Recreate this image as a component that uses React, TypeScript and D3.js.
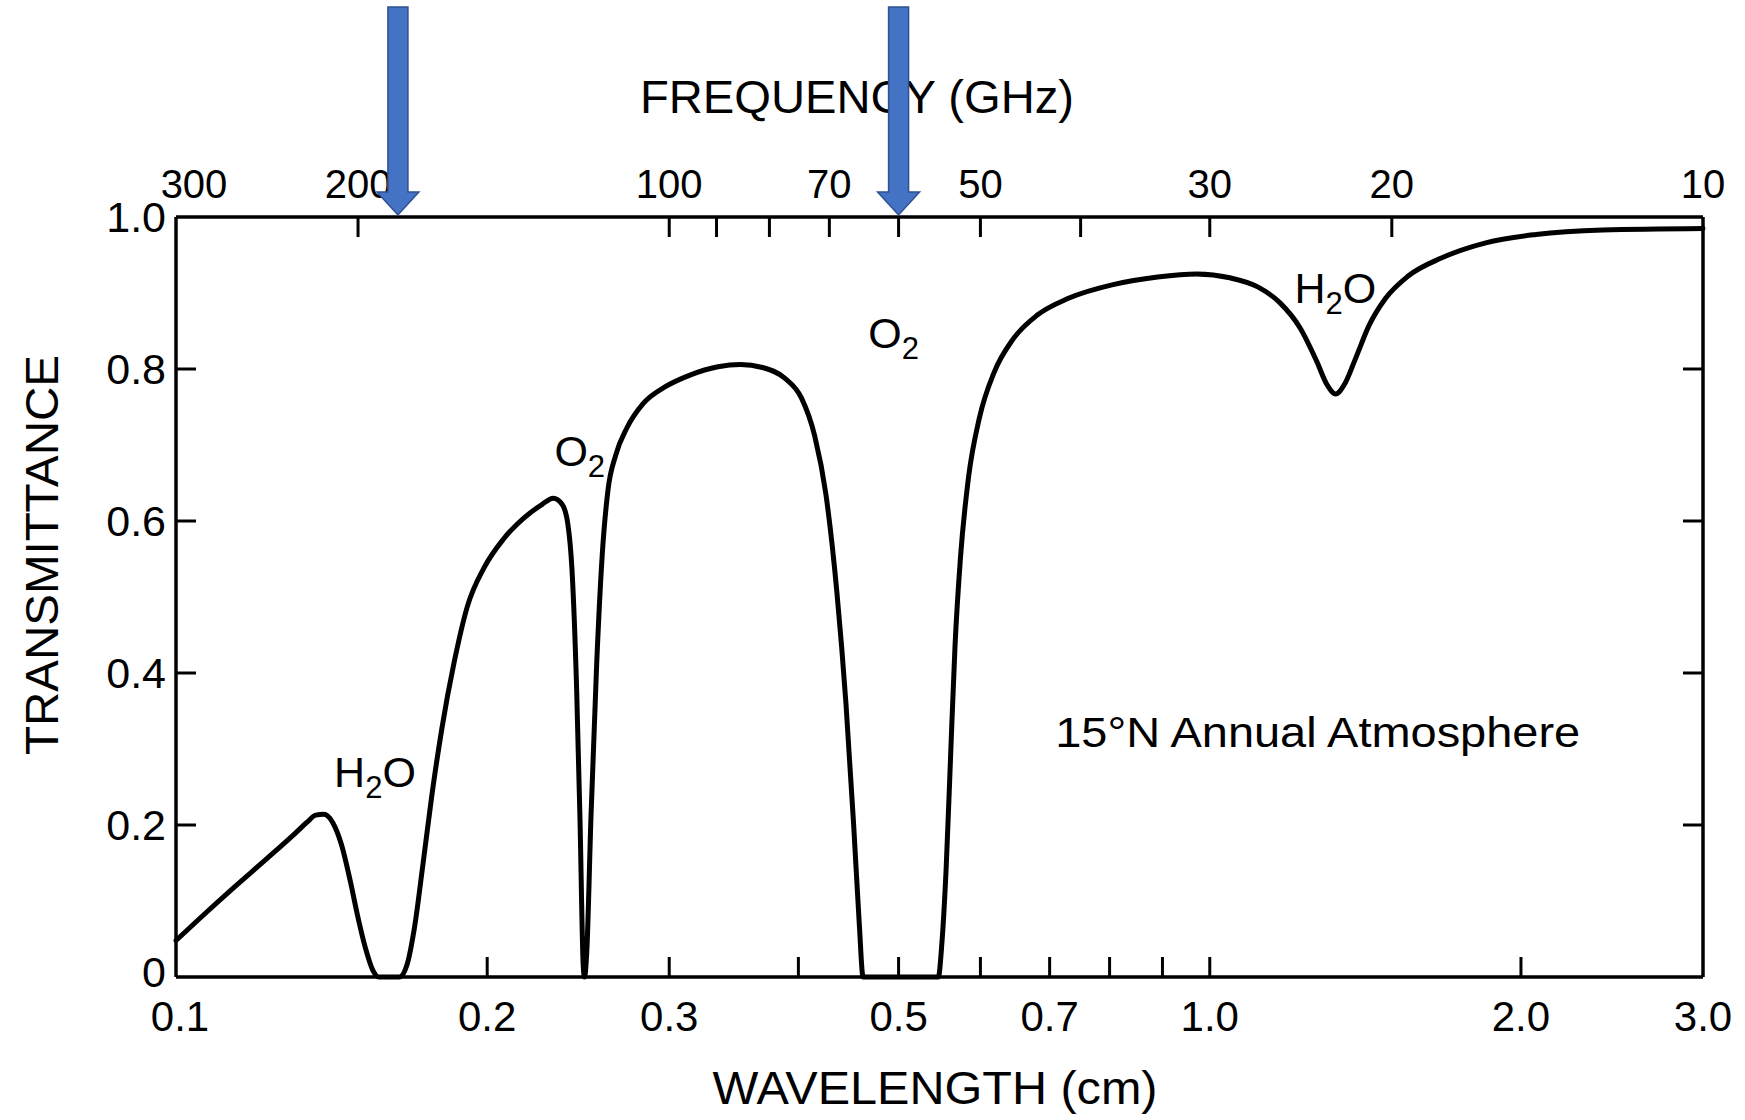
import React from 'react';
import * as d3 from 'd3';

// ---- Data ----
const wavelengthCm = [
  0.1, 0.1056, 0.1138, 0.1225, 0.1304, 0.1340, 0.1365, 0.139, 0.1418, 0.1445,
  0.1475, 0.15, 0.1525, 0.155, 0.157, 0.1645, 0.1672, 0.17, 0.1734, 0.1768,
  0.1808, 0.1858, 0.1914, 0.1987, 0.2073, 0.2167, 0.2261, 0.2317, 0.2363, 0.2393,
  0.2416, 0.2441, 0.2459, 0.2477, 0.2484, 0.2496, 0.252, 0.2552, 0.2584, 0.2617,
  0.2662, 0.2729, 0.2833, 0.2977, 0.3142, 0.3344, 0.3515, 0.3692, 0.388, 0.4027,
  0.4148, 0.4253, 0.4359, 0.4447, 0.4524, 0.4581, 0.462, 0.5463, 0.5504, 0.5559,
  0.5614, 0.567, 0.574, 0.5841, 0.5987, 0.6183, 0.645, 0.6811, 0.73, 0.8062,
  0.8904, 0.971, 1.0457, 1.1129, 1.1695, 1.2229, 1.2691, 1.2977, 1.3237, 1.3502,
  1.3838, 1.4256, 1.4794, 1.5545, 1.6749, 1.8493, 2.068, 2.399, 3.0,
];
const transmittance = [
  0.048, 0.078, 0.118, 0.156, 0.189, 0.204, 0.213, 0.214, 0.203, 0.175,
  0.125, 0.078, 0.038, 0.009, 0.0, 0.0, 0.015, 0.063, 0.15, 0.239,
  0.327, 0.414, 0.488, 0.539, 0.576, 0.603, 0.622, 0.63, 0.622, 0.597,
  0.535, 0.378, 0.21, 0.015, 0.0, 0.03, 0.21, 0.41, 0.555, 0.64,
  0.686, 0.722, 0.755, 0.777, 0.792, 0.803, 0.806, 0.802, 0.788, 0.762,
  0.712, 0.635, 0.505, 0.36, 0.2, 0.07, 0.0, 0.0, 0.041, 0.143,
  0.29, 0.436, 0.553, 0.656, 0.736, 0.795, 0.839, 0.871, 0.893, 0.911,
  0.921, 0.925, 0.92, 0.908, 0.887, 0.854, 0.81, 0.78, 0.767, 0.78,
  0.814, 0.857, 0.893, 0.922, 0.946, 0.966, 0.977, 0.983, 0.985,
];

const wavelengthTicks = [0.2, 0.3, 0.4, 0.5, 0.6, 0.7, 0.8, 0.9, 1.0, 2.0];
const wavelengthLabelValues = [0.1, 0.2, 0.3, 0.5, 0.7, 1.0, 2.0, 3.0];
const wavelengthLabelTexts = ['0.1', '0.2', '0.3', '0.5', '0.7', '1.0', '2.0', '3.0'];

const frequencyTicks = [200, 100, 90, 80, 70, 60, 50, 40, 30, 20];
const frequencyLabelValues = [300, 200, 100, 70, 50, 30, 20, 10];
const frequencyLabelTexts = ['300', '200', '100', '70', '50', '30', '20', '10'];

const transTicks = [0.2, 0.4, 0.6, 0.8];
const transLabelValues = [0, 0.2, 0.4, 0.6, 0.8, 1.0];
const transLabelTexts = ['0', '0.2', '0.4', '0.6', '0.8', '1.0'];

const arrowFrequenciesGHz = [183, 60];

const annotationMain = ['H', 'O', 'O', 'H'];
const annotationSub = ['2', '2', '2', '2'];
const annotationTail = ['O', '', '', 'O'];
const annotationWavelength = [0.1422, 0.2323, 0.4674, 1.2075];
const annotationT = [0.25, 0.673, 0.827, 0.887];

const noteText = '15°N Annual Atmosphere';
const noteWavelength = 0.7087;
const noteT = 0.302;

const ghzToCm = (f: number) => 30 / f;

// ---- Layout ----
const W = 1745;
const H = 1120;
const left = 176;
const right = 1703;
const top = 217;
const bottom = 977;
const FONT = "'Liberation Sans', Arial, sans-serif";

export default function App() {
  const x = d3.scaleLog().domain([0.1, 3.0]).range([left, right]);
  const y = d3.scaleLinear().domain([0, 1]).range([bottom, top]);

  const pts: [number, number][] = wavelengthCm.map((w, i) => [w, transmittance[i]]);
  const line = d3
    .line<[number, number]>()
    .x((d) => x(d[0]))
    .y((d) => y(d[1]))
    .curve(d3.curveMonotoneX);

  const tickLen = 20;
  const axisW = 3.5;

  return (
    <svg
      width={W}
      height={H}
      style={{ position: 'absolute', left: 0, top: 0, background: '#fff' }}
      fontFamily={FONT}
    >
      <rect x={0} y={0} width={W} height={H} fill="#fff" />
      {/* frame */}
      <line x1={left} y1={top} x2={right} y2={top} stroke="#000" strokeWidth={axisW} />
      <line x1={left} y1={bottom} x2={right} y2={bottom} stroke="#000" strokeWidth={axisW} />
      <line x1={left} y1={top} x2={left} y2={bottom} stroke="#000" strokeWidth={axisW} />
      <line x1={right} y1={top} x2={right} y2={bottom} stroke="#000" strokeWidth={axisW} />

      {/* bottom ticks */}
      {wavelengthTicks.map((v) => (
        <line key={'bt' + v} x1={x(v)} x2={x(v)} y1={bottom} y2={bottom - tickLen} stroke="#000" strokeWidth={3} />
      ))}
      {wavelengthLabelValues.map((v, i) => (
        <text key={'bl' + v} x={x(v) + (i === 0 ? 4 : 0)} y={1031} fontSize={42} textAnchor="middle" fill="#000">
          {wavelengthLabelTexts[i]}
        </text>
      ))}

      {/* top ticks (frequency) */}
      {frequencyTicks.map((f) => (
        <line key={'tt' + f} x1={x(ghzToCm(f))} x2={x(ghzToCm(f))} y1={top} y2={top + tickLen} stroke="#000" strokeWidth={3} />
      ))}
      {frequencyLabelValues.map((f, i) => (
        <text
          key={'tl' + f}
          x={x(ghzToCm(f)) + (i === 0 ? 18 : 0)}
          y={198}
          fontSize={40}
          textAnchor="middle"
          fill="#000"
        >
          {frequencyLabelTexts[i]}
        </text>
      ))}

      {/* left & right ticks */}
      {transTicks.map((t) => (
        <g key={'yt' + t}>
          <line x1={left} x2={left + tickLen} y1={y(t)} y2={y(t)} stroke="#000" strokeWidth={3} />
          <line x1={right} x2={right - tickLen} y1={y(t)} y2={y(t)} stroke="#000" strokeWidth={3} />
        </g>
      ))}
      {transLabelValues.map((t, i) => (
        <text key={'yl' + t} x={166} y={y(t) + (i === 0 ? 10 : 15)} fontSize={43} textAnchor="end" fill="#000">
          {transLabelTexts[i]}
        </text>
      ))}

      {/* axis titles */}
      <text x={935} y={1104} fontSize={46} textAnchor="middle" textLength={445} lengthAdjust="spacingAndGlyphs" fill="#000">
        WAVELENGTH (cm)
      </text>
      <text x={857} y={113} fontSize={46} textAnchor="middle" textLength={434} lengthAdjust="spacingAndGlyphs" fill="#000">
        FREQUENCY (GHz)
      </text>
      <text
        transform={`translate(58, 555) rotate(-90)`}
        fontSize={46}
        textAnchor="middle"
        textLength={400}
        lengthAdjust="spacingAndGlyphs"
        fill="#000"
      >
        TRANSMITTANCE
      </text>

      {/* curve */}
      <path d={line(pts) || ''} fill="none" stroke="#000" strokeWidth={5} strokeLinejoin="round" strokeLinecap="round" />

      {/* molecule annotations */}
      {annotationMain.map((m, i) => (
        <text key={'an' + i} x={x(annotationWavelength[i])} y={y(annotationT[i])} fontSize={43} fill="#000">
          <tspan>{m}</tspan>
          <tspan dy={11} fontSize={31}>{annotationSub[i]}</tspan>
          {annotationTail[i] ? <tspan dy={-11}>{annotationTail[i]}</tspan> : null}
        </text>
      ))}
      <text x={x(noteWavelength)} y={y(noteT)} fontSize={43} textLength={525} lengthAdjust="spacingAndGlyphs" fill="#000">
        {noteText}
      </text>

      {/* blue arrows */}
      {arrowFrequenciesGHz.map((f) => {
        const cx = x(ghzToCm(f));
        const sw = 10;
        const hw = 21;
        const y0 = 7;
        const yh = 192;
        const yt = top - 2;
        const d = `M${cx - sw},${y0} L${cx + sw},${y0} L${cx + sw},${yh} L${cx + hw},${yh} L${cx},${yt} L${cx - hw},${yh} L${cx - sw},${yh} Z`;
        return <path key={'ar' + f} d={d} fill="#4472C4" stroke="#2F528F" strokeWidth={1.5} />;
      })}
    </svg>
  );
}
